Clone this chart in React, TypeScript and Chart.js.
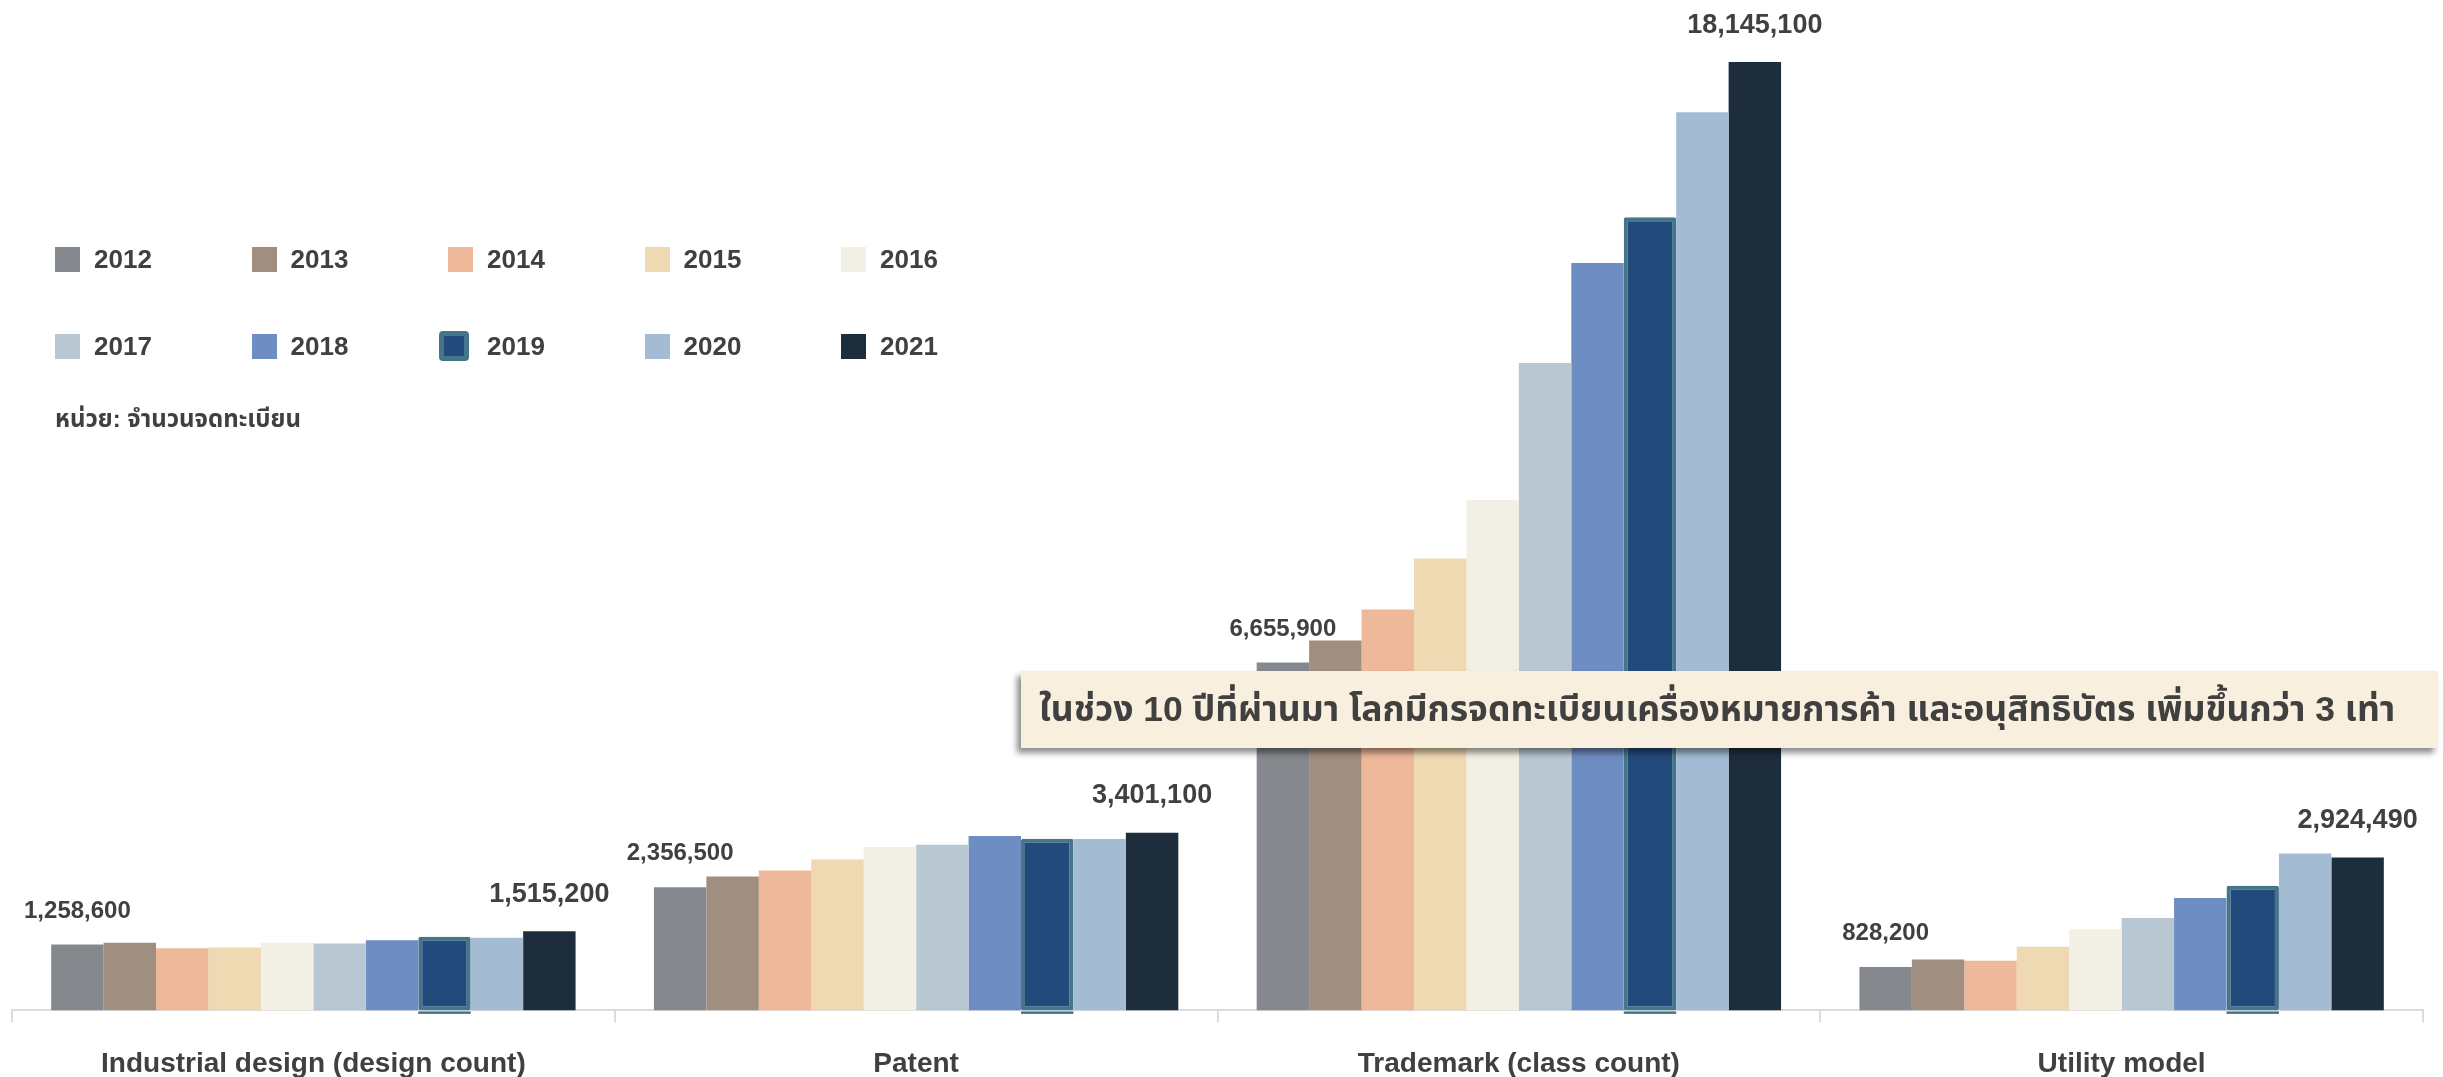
import React, { useEffect, useRef } from "react";
import { Chart, registerables } from "chart.js";

Chart.register(...registerables);

const categories = [
  "Industrial design (design count)",
  "Patent",
  "Trademark (class count)",
  "Utility model",
];

const years = ["2012", "2013", "2014", "2015", "2016", "2017", "2018", "2019", "2020", "2021"];

const industrialDesign = [1258600, 1293000, 1191000, 1203000, 1293000, 1279000, 1344000, 1408000, 1388000, 1515200];
const patent = [2356500, 2562000, 2677000, 2888000, 3125000, 3169000, 3336000, 3284000, 3278000, 3401100];
const trademark = [6655900, 7076000, 7670000, 8646000, 9765000, 12390000, 14299000, 15176000, 17187000, 18145100];
const utilityModel = [828200, 973000, 948000, 1216000, 1555000, 1766000, 2149000, 2384000, 3003000, 2924490];

const yearColors = [
  "#85898d",
  "#a08f80",
  "#eeb99a",
  "#efd9b3",
  "#f2efe4",
  "#b9c7d2",
  "#6e8dc2",
  "#224b7c",
  "#a3bcd4",
  "#1e2d3b",
];
const highlightYear = "2019";
const highlightBorder = "#44758b";

const unitText = "หน่วย: จำนวนจดทะเบียน";
const calloutText =
  "ในช่วง 10 ปีที่ผ่านมา โลกมีกรจดทะเบียนเครื่องหมายการค้า และอนุสิทธิบัตร เพิ่มขึ้นกว่า 3 เท่า";

const FONT = '"Liberation Sans", Arial, "Noto Sans Thai", "Noto Sans", sans-serif';
const TEXT = "#404040";

const W = 2443;
const H = 1077;
const CANVAS_H = H + 29;

const labelPlugin = {
  id: "valueLabels",
  afterDatasetsDraw(chart: any) {
    const ctx = chart.ctx;
    const yScale = chart.scales.y;
    const base = yScale.getPixelForValue(0);
    ctx.save();
    const hi = years.indexOf(highlightYear);
    chart.getDatasetMeta(hi).data.forEach((bar: any) => {
      const p = bar.getProps(["x", "width"], true);
      ctx.fillStyle = highlightBorder;
      ctx.fillRect(p.x - p.width / 2, base + 1, p.width, 2.5);
    });
    const labelled = [
      { ds: 0, size: 24, off: 27 },
      { ds: years.length - 1, size: 27, off: 29.5 },
    ];
    ctx.fillStyle = TEXT;
    ctx.textAlign = "center";
    ctx.textBaseline = "alphabetic";
    labelled.forEach((l) => {
      const meta = chart.getDatasetMeta(l.ds);
      const data = chart.data.datasets[l.ds].data;
      ctx.font = `bold ${l.size}px ${FONT}`;
      meta.data.forEach((bar: any, i: number) => {
        const p = bar.getProps(["x", "y"], true);
        ctx.fillText(Number(data[i]).toLocaleString("en-US"), p.x, p.y - l.off);
      });
    });
    ctx.restore();
  },
};

export default function App() {
  const ref = useRef<HTMLCanvasElement | null>(null);

  useEffect(() => {
    if (!ref.current) return;
    const series = [industrialDesign, patent, trademark, utilityModel];
    const datasets = years.map((y, yi) => {
      const isHi = y === highlightYear;
      return {
        label: y,
        data: series.map((s) => s[yi]),
        backgroundColor: yearColors[yi],
        borderColor: isHi ? highlightBorder : yearColors[yi],
        borderWidth: isHi ? 4 : 0,
        borderSkipped: isHi ? false : "start",
        borderRadius: isHi ? 2 : 0,
        categoryPercentage: 0.87,
        barPercentage: 1.0,
      };
    });
    const chart = new Chart(ref.current, {
      type: "bar",
      data: { labels: categories, datasets: datasets as any },
      options: {
        responsive: false,
        animation: false,
        devicePixelRatio: 1,
        layout: { padding: { left: 12, right: 20, top: 0, bottom: 0 } },
        plugins: {
          legend: { display: false },
          tooltip: { enabled: false },
        },
        scales: {
          x: {
            grid: {
              display: true,
              drawOnChartArea: false,
              drawTicks: true,
              tickLength: 12,
              color: "#dcdcdc",
              lineWidth: 2,
              offset: true,
            },
            border: { display: true, color: "#dcdcdc", width: 2 },
            ticks: {
              color: TEXT,
              font: { family: FONT, size: 28, weight: "bold" },
              padding: 25,
              maxRotation: 0,
            },
          },
          y: {
            display: false,
            min: 0,
            max: 19333600,
          },
        },
      },
      plugins: [labelPlugin],
    });
    return () => chart.destroy();
  }, []);

  return (
    <div
      style={{
        position: "fixed",
        left: 0,
        top: 0,
        width: W,
        height: H,
        background: "#ffffff",
        overflow: "hidden",
        fontFamily: FONT,
      }}
    >
      <canvas
        ref={ref}
        width={W}
        height={CANVAS_H}
        style={{ position: "absolute", left: 0, top: 0, width: W, height: CANVAS_H }}
      />
      {years.map((y, i) => {
        const col = i % 5;
        const row = Math.floor(i / 5);
        const left = 55 + col * 196.5;
        const cy = 259 + row * 87;
        const isHi = y === highlightYear;
        return (
          <div key={y}>
            <div
              style={{
                position: "absolute",
                left: isHi ? left - 9 : left,
                top: isHi ? cy - 15 : cy - 12.5,
                width: isHi ? 20 : 25,
                height: isHi ? 20 : 25,
                background: yearColors[i],
                border: isHi ? `5px solid ${highlightBorder}` : "none",
                borderRadius: isHi ? 4 : 0,
              }}
            />
            <div
              style={{
                position: "absolute",
                left: left + 39,
                top: cy - 16,
                height: 32,
                lineHeight: "32px",
                fontSize: 26,
                fontWeight: "bold",
                color: TEXT,
                whiteSpace: "nowrap",
              }}
            >
              {y}
            </div>
          </div>
        );
      })}
      <div
        style={{
          position: "absolute",
          left: 55,
          top: 402,
          height: 34,
          lineHeight: "34px",
          fontSize: 24,
          fontWeight: "bold",
          color: TEXT,
          whiteSpace: "nowrap",
        }}
      >
        {unitText}
      </div>
      <div
        style={{
          position: "absolute",
          left: 1021,
          top: 671,
          width: 1417,
          height: 77,
          background: "#f8efdf",
          boxShadow: "-4px 5px 6px rgba(0,0,0,0.45)",
          display: "flex",
          alignItems: "center",
          paddingLeft: 18,
          boxSizing: "border-box",
          fontSize: 35.5,
          fontWeight: "bold",
          color: TEXT,
          whiteSpace: "nowrap",
        }}
      >
        {calloutText}
      </div>
    </div>
  );
}
